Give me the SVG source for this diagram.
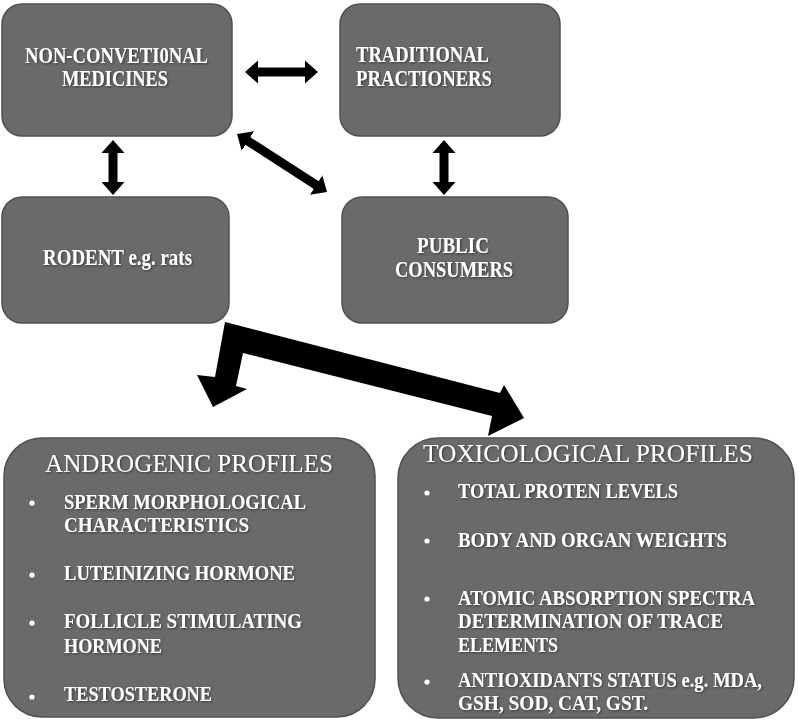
<svg xmlns="http://www.w3.org/2000/svg" width="798" height="723" viewBox="0 0 798 723">
<style>
.box{fill:#6a6a6a;stroke:#505050;stroke-width:1.5}
.t{font-family:"Liberation Serif","Times New Roman",serif;fill:#ffffff;filter:url(#sh)}
.b{font-weight:bold}
.lbl{font-size:22.5px}
.ttl{font-size:26px}
.itm{font-size:20px}
.dot{fill:#ffffff}
.conn{stroke:#000;stroke-width:9;fill:none;marker-start:url(#ah);marker-end:url(#ah)}
</style>
<defs>
<filter id="sh" x="-5%" y="-20%" width="110%" height="140%">
<feDropShadow dx="1" dy="1" stdDeviation="0.8" flood-color="#303030" flood-opacity="0.9"/>
</filter>
<marker id="ah" markerUnits="userSpaceOnUse" markerWidth="15" markerHeight="26" viewBox="0 -13 15 26" refX="3" refY="0" orient="auto-start-reverse">
<path d="M0,-11.5 L13,0 L0,11.5 Z" fill="#000"/>
</marker>
</defs>
<rect width="798" height="723" fill="#ffffff"/>

<g id="connectors">
<line class="conn" x1="255" y1="72" x2="308" y2="72"/>
<line class="conn" x1="113" y1="150" x2="113" y2="185"/>
<line class="conn" x1="444" y1="150" x2="444" y2="185"/>
<line class="conn" x1="245.4" y1="139.4" x2="318.6" y2="186.6"/>
<path d="M225,322 L500,393 L504,385 L524,418 L488,436 L492,416 L243,353 L236,386 L247,389 L213,407 L197,375 L215,377 Z" fill="#000"/>
</g>

<g id="node-nonconventional">
<rect class="box" x="2" y="4" width="230" height="132" rx="20"/>
<text class="t b lbl" x="25" y="63" textLength="183" lengthAdjust="spacingAndGlyphs">NON-CONVETI0NAL</text>
<text class="t b lbl" x="62" y="86" textLength="106" lengthAdjust="spacingAndGlyphs">MEDICINES</text>
</g>

<g id="node-traditional">
<rect class="box" x="340" y="4" width="220" height="132" rx="20"/>
<text class="t b lbl" x="356" y="62" textLength="133" lengthAdjust="spacingAndGlyphs">TRADITIONAL</text>
<text class="t b lbl" x="356" y="86" textLength="136" lengthAdjust="spacingAndGlyphs">PRACTIONERS</text>
</g>

<g id="node-rodent">
<rect class="box" x="2" y="197" width="227" height="126" rx="20"/>
<text class="t b lbl" x="43" y="265" textLength="149" lengthAdjust="spacingAndGlyphs">RODENT e.g. rats</text>
</g>

<g id="node-public">
<rect class="box" x="342" y="197" width="226" height="126" rx="20"/>
<text class="t b lbl" x="417" y="253" textLength="72" lengthAdjust="spacingAndGlyphs">PUBLIC</text>
<text class="t b lbl" x="395" y="277" textLength="118" lengthAdjust="spacingAndGlyphs">CONSUMERS</text>
</g>

<g id="node-androgenic">
<rect class="box" x="4" y="438" width="371" height="279" rx="38"/>
<text class="t ttl" x="45" y="472" textLength="288" lengthAdjust="spacingAndGlyphs">ANDROGENIC PROFILES</text>
<circle class="dot" cx="32" cy="503" r="2.6"/>
<text class="t b itm" x="64" y="509" textLength="242" lengthAdjust="spacingAndGlyphs">SPERM MORPHOLOGICAL</text>
<text class="t b itm" x="64" y="532" textLength="185" lengthAdjust="spacingAndGlyphs">CHARACTERISTICS</text>
<circle class="dot" cx="32" cy="575" r="2.6"/>
<text class="t b itm" x="64" y="580" textLength="231" lengthAdjust="spacingAndGlyphs">LUTEINIZING HORMONE</text>
<circle class="dot" cx="32" cy="623" r="2.6"/>
<text class="t b itm" x="64" y="628" textLength="238" lengthAdjust="spacingAndGlyphs">FOLLICLE  STIMULATING</text>
<text class="t b itm" x="64" y="653" textLength="98" lengthAdjust="spacingAndGlyphs">HORMONE</text>
<circle class="dot" cx="32" cy="697" r="2.6"/>
<text class="t b itm" x="64" y="701" textLength="148" lengthAdjust="spacingAndGlyphs">TESTOSTERONE</text>
</g>

<g id="node-toxicological">
<rect class="box" x="398" y="438" width="396" height="280" rx="40"/>
<text class="t ttl" x="423" y="462" textLength="330" lengthAdjust="spacingAndGlyphs">TOXICOLOGICAL PROFILES</text>
<circle class="dot" cx="427" cy="493" r="2.6"/>
<text class="t b itm" x="458" y="498" textLength="220" lengthAdjust="spacingAndGlyphs">TOTAL PROTEN LEVELS</text>
<circle class="dot" cx="427" cy="541" r="2.6"/>
<text class="t b itm" x="458" y="547" textLength="269" lengthAdjust="spacingAndGlyphs">BODY AND ORGAN WEIGHTS</text>
<circle class="dot" cx="427" cy="599" r="2.6"/>
<text class="t b itm" x="458" y="605" textLength="297" lengthAdjust="spacingAndGlyphs">ATOMIC ABSORPTION SPECTRA</text>
<text class="t b itm" x="458" y="628" textLength="265" lengthAdjust="spacingAndGlyphs">DETERMINATION  OF TRACE</text>
<text class="t b itm" x="458" y="652" textLength="100" lengthAdjust="spacingAndGlyphs">ELEMENTS</text>
<circle class="dot" cx="427" cy="682" r="2.6"/>
<text class="t b itm" x="458" y="687" textLength="304" lengthAdjust="spacingAndGlyphs">ANTIOXIDANTS STATUS e.g. MDA,</text>
<text class="t b itm" x="458" y="710" textLength="190" lengthAdjust="spacingAndGlyphs">GSH, SOD,  CAT, GST.</text>
</g>
</svg>
